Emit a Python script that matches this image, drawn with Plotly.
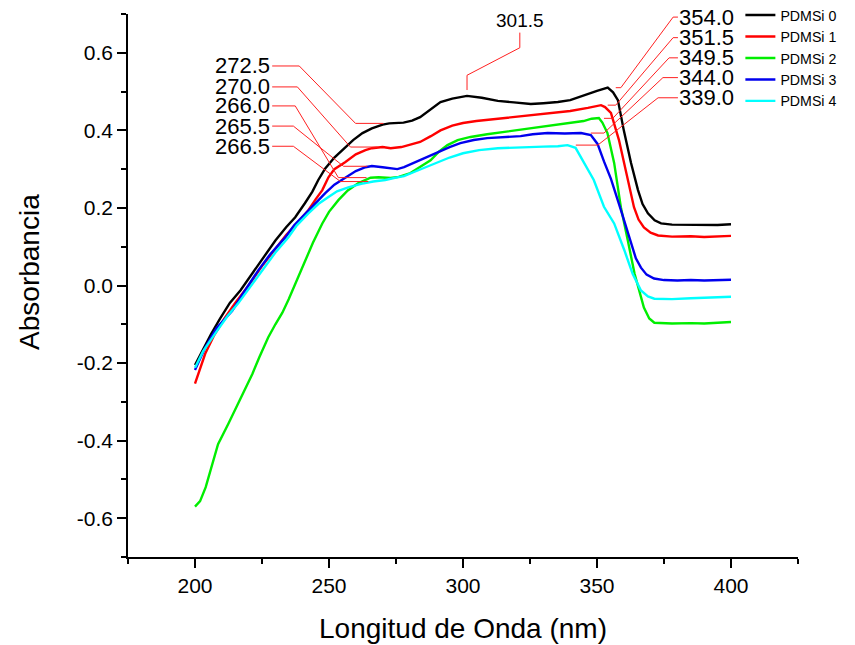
import numpy as np
import plotly.graph_objects as go

# ---------------- data ----------------
series_names = ["PDMSi 0", "PDMSi 1", "PDMSi 2", "PDMSi 3", "PDMSi 4"]
series_colors = ["#000000", "#ff0000", "#00ee00", "#0000ee", "#00ffff"]

wl_0 = [200, 203, 206, 209.4, 213, 217, 221.4, 226, 230, 234, 237.4, 241, 243.8, 246, 248.6, 252, 255,
        259, 262.5, 266, 270, 272.5, 277.8, 281, 284, 288, 291.6, 296, 301.5, 307, 313, 319, 325.3, 330,
        335.4, 340, 345, 350, 354, 356, 357.8, 360, 362.7, 365.3, 367, 369, 371.5, 373.9, 378, 385, 390,
        395, 400]
abs_0 = [-0.205, -0.165, -0.125, -0.085, -0.045, -0.012, 0.031, 0.075, 0.116, 0.150, 0.176, 0.212, 0.242,
         0.272, 0.302, 0.330, 0.349, 0.375, 0.393, 0.405, 0.415, 0.418, 0.420, 0.425, 0.434, 0.455, 0.473,
         0.482, 0.489, 0.484, 0.476, 0.472, 0.468, 0.470, 0.473, 0.478, 0.491, 0.502, 0.510, 0.498, 0.478,
         0.400, 0.316, 0.246, 0.210, 0.186, 0.168, 0.160, 0.157, 0.156, 0.157, 0.156, 0.158]

wl_1 = [200, 202, 203.8, 207, 211, 215, 220, 225, 230, 234, 238, 242.3, 245, 247.5, 249.8, 252, 256, 260,
        263.6, 266, 270, 273, 277, 280, 284, 288, 291.6, 296, 300, 305, 309, 315, 321.5, 327, 333.9, 340,
        346.6, 350, 351.5, 353, 355.2, 358.2, 361.5, 363.8, 365.5, 367.5, 370, 372.8, 378, 385, 390, 395, 400]
abs_1 = [-0.253, -0.215, -0.176, -0.130, -0.085, -0.045, 0.000, 0.050, 0.095, 0.130, 0.160, 0.194, 0.222,
         0.246, 0.279, 0.300, 0.318, 0.338, 0.349, 0.354, 0.357, 0.354, 0.357, 0.362, 0.370, 0.385, 0.400,
         0.412, 0.419, 0.424, 0.427, 0.432, 0.437, 0.440, 0.445, 0.450, 0.458, 0.463, 0.465, 0.460, 0.445,
         0.375, 0.272, 0.202, 0.170, 0.150, 0.136, 0.129, 0.126, 0.127, 0.125, 0.126, 0.128]

wl_2 = [200, 201.9, 204, 206, 208.6, 212.4, 216.1, 219, 221.4, 224, 227.3, 230, 232.6, 235, 238, 241.2,
        244, 247.5, 250, 253.5, 257, 261, 265.5, 268.5, 273, 276, 280.4, 284, 287.9, 291, 294.2, 298,
        302.8, 309, 315.2, 321, 327.9, 334, 340.2, 345, 348, 349.5, 350.7, 352, 353.9, 356.4, 358.9, 361.5,
        364, 367.5, 369.5, 371.4, 378, 385, 390, 395, 400]
abs_2 = [-0.570, -0.556, -0.520, -0.470, -0.409, -0.357, -0.305, -0.260, -0.228, -0.185, -0.134, -0.100,
         -0.070, -0.035, 0.015, 0.065, 0.110, 0.160, 0.190, 0.220, 0.245, 0.264, 0.278, 0.279, 0.277, 0.280,
         0.290, 0.305, 0.323, 0.345, 0.362, 0.375, 0.383, 0.390, 0.396, 0.402, 0.409, 0.414, 0.419, 0.424,
         0.430, 0.431, 0.432, 0.420, 0.393, 0.316, 0.202, 0.116, 0.031, -0.057, -0.085, -0.096, -0.098,
         -0.097, -0.098, -0.096, -0.094]

wl_3 = [200, 203.8, 208, 213.9, 218, 223.6, 228, 233.7, 237, 241.2, 245, 248.6, 252, 256.1, 260, 263.6,
        266, 270, 275.5, 278, 281.5, 286, 290.5, 295, 299, 304, 309, 315, 321.5, 326, 331.6, 338, 344,
        347.7, 350.2, 352.6, 355.2, 358.9, 362.7, 364.5, 366.4, 368.5, 371.3, 375, 380, 385, 390, 395, 400]
abs_3 = [-0.218, -0.160, -0.110, -0.065, -0.020, 0.039, 0.080, 0.124, 0.155, 0.186, 0.213, 0.238, 0.260,
         0.279, 0.295, 0.305, 0.308, 0.305, 0.300, 0.305, 0.316, 0.330, 0.344, 0.357, 0.367, 0.375, 0.380,
         0.383, 0.385, 0.390, 0.393, 0.392, 0.393, 0.388, 0.365, 0.320, 0.275, 0.195, 0.108, 0.070, 0.046,
         0.028, 0.018, 0.014, 0.013, 0.014, 0.013, 0.014, 0.015]

wl_4 = [200, 203, 207.5, 212, 216.1, 221, 226.2, 230, 234.8, 238, 242.3, 246, 249.8, 253, 257.2, 262,
        266.5, 271, 275, 278, 281.5, 286, 290.5, 295, 300, 306, 313, 319, 325.3, 330, 335.4, 339, 342,
        344.5, 348.8, 352.6, 356.4, 360.2, 363.3, 366.4, 369, 371.4, 378, 385, 392, 400]
abs_4 = [-0.212, -0.170, -0.124, -0.080, -0.046, 0.000, 0.047, 0.085, 0.124, 0.155, 0.186, 0.210, 0.228,
         0.243, 0.253, 0.262, 0.268, 0.272, 0.278, 0.282, 0.292, 0.305, 0.318, 0.330, 0.341, 0.349, 0.354,
         0.356, 0.357, 0.358, 0.359, 0.362, 0.355, 0.325, 0.272, 0.203, 0.160, 0.091, 0.030, -0.013, -0.028,
         -0.034, -0.035, -0.033, -0.032, -0.029]

wavelengths = [wl_0, wl_1, wl_2, wl_3, wl_4]
absorbances = [abs_0, abs_1, abs_2, abs_3, abs_4]

# peak labels (nm)
peaks_left = [272.5, 270.0, 266.0, 265.5, 266.5]
peaks_right = [354.0, 351.5, 349.5, 344.0, 339.0]
peak_top = 301.5

x_ticks = [200, 250, 300, 350, 400]
y_ticks = [-0.6, -0.4, -0.2, 0.0, 0.2, 0.4, 0.6]
y_ticktext = [f"{v:.1f}" for v in y_ticks]

# ---------------- figure ----------------
FONT = "Arial, Liberation Sans, Helvetica, sans-serif"
LEADER = dict(color="#ff2020", width=1)

fig = go.Figure()
for name, col, wl, ab in zip(series_names, series_colors, wavelengths, absorbances):
    fig.add_trace(go.Scatter(x=wl, y=ab, mode="lines", name=name,
                             line=dict(color=col, width=2.4), hoverinfo="skip"))


def val_at(i, nm):
    return float(np.interp(nm, wavelengths[i], absorbances[i]))


annotations = []

# left-hand labels (layout positions)
left_lab_x = 228.3
left_lab_y = [0.566, 0.512, 0.463, 0.411, 0.359]
left_e1 = [238.9, 238.2, 237.4, 236.7, 236.7]
left_e2 = [259.9, 258.0, 253.5, 255.4, 254.3]
left_gap = [2.2, 1.9, 2.0, 1.2, 1.8]
for i, pk in enumerate(peaks_left):
    ty = val_at(i, pk)
    fig.add_trace(go.Scatter(x=[left_lab_x + 0.5, left_e1[i], left_e2[i], pk - left_gap[i]],
                             y=[left_lab_y[i], left_lab_y[i], ty, ty], mode="lines",
                             line=LEADER, showlegend=False, hoverinfo="skip"))
    annotations.append(dict(x=left_lab_x, y=left_lab_y[i], xref="x", yref="y", text=f"{pk:.1f}",
                            showarrow=False, xanchor="right", yanchor="middle", borderpad=0,
                            font=dict(family=FONT, size=22, color="black")))

# right-hand labels
right_lab_x = 380.2
right_lab_y = [0.692, 0.639, 0.587, 0.536, 0.484]
right_e1 = [378.4, 378.4, 376.9, 374.6, 372.8]
right_e2 = [358.9, 357.0, 355.9, 352.6, 350.3]
right_gap = [3.0, 2.5, 3.1, 3.7, 3.1]
for i, pk in enumerate(peaks_right):
    ty = val_at(i, pk)
    fig.add_trace(go.Scatter(x=[right_lab_x, right_e1[i], right_e2[i], pk + right_gap[i]],
                             y=[right_lab_y[i], right_lab_y[i], ty, ty], mode="lines",
                             line=LEADER, showlegend=False, hoverinfo="skip"))
    annotations.append(dict(x=right_lab_x, y=right_lab_y[i], xref="x", yref="y", text=f"{pk:.1f}",
                            showarrow=False, xanchor="left", yanchor="middle", borderpad=0,
                            font=dict(family=FONT, size=22, color="black")))

# top label
top_lab_x = 321.2
ty = val_at(0, peak_top)
fig.add_trace(go.Scatter(x=[top_lab_x, top_lab_x, peak_top, peak_top],
                         y=[0.652, 0.613, ty + 0.053, ty + 0.015], mode="lines",
                         line=LEADER, showlegend=False, hoverinfo="skip"))
annotations.append(dict(x=top_lab_x, y=0.682, xref="x", yref="y", text=f"{peak_top:.1f}",
                        showarrow=False, xanchor="center", yanchor="middle", borderpad=0,
                        font=dict(family=FONT, size=19, color="black")))

# y-axis title (placed as rotated text)
annotations.append(dict(x=0, y=0.525, xref="paper", yref="paper", text="Absorbancia",
                        textangle=-90, showarrow=False, xanchor="center", yanchor="middle",
                        xshift=-98, font=dict(family=FONT, size=28, color="black")))

axis_common = dict(showline=True, linecolor="black", linewidth=1.6, showgrid=False, zeroline=False,
                   ticks="outside", ticklen=9, tickwidth=1.5, tickcolor="black", mirror=False,
                   tickfont=dict(family=FONT, size=21, color="black"))

fig.update_layout(
    width=855, height=645,
    margin=dict(l=120, r=65, t=6, b=96, autoexpand=False),
    paper_bgcolor="white", plot_bgcolor="white",
    font=dict(family=FONT, color="black"),
    annotations=annotations,
    legend=dict(x=0.914, y=1.027, xanchor="left", yanchor="top", bgcolor="rgba(0,0,0,0)",
                font=dict(family=FONT, size=14.2, color="black"), tracegroupgap=0,
                itemwidth=30, borderwidth=0),
    xaxis=dict(range=[175, 425], tickvals=x_ticks, title=dict(text="Longitud de Onda (nm)",
               font=dict(family=FONT, size=28), standoff=22),
               minor=dict(dtick=25, tick0=0, ticks="outside", ticklen=5, tickwidth=1.5, tickcolor="black"),
               **axis_common),
    yaxis=dict(range=[-0.7, 0.7], tickvals=y_ticks, ticktext=y_ticktext,
               minor=dict(dtick=0.1, tick0=0, ticks="outside", ticklen=5, tickwidth=1.5, tickcolor="black"),
               **axis_common),
)

fig.write_html("out.html")
